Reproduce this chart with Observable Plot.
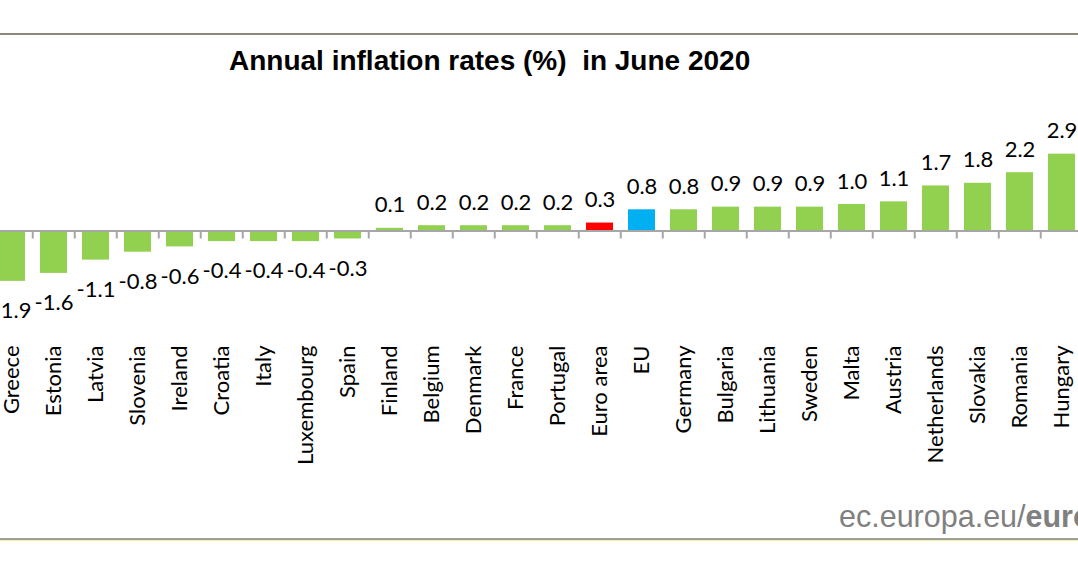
<!DOCTYPE html>
<html>
<head>
<meta charset="utf-8">
<script src="https://cdn.jsdelivr.net/npm/d3@7"></script>
<script src="https://cdn.jsdelivr.net/npm/@observablehq/plot@0.6"></script>
<style>
html, body { margin: 0; padding: 0; background: #fff; overflow: hidden; }
#wrap { position: relative; width: 1078px; height: 567px; overflow: hidden; background: #fff; }
#chart { position: absolute; left: 0; top: 0; }
#topline { position: absolute; left: 0; top: 33px; width: 1078px; height: 2px; background: #8b877b; }
#title { position: absolute; left: 229px; top: 47px; font-family: "Liberation Sans", Arial, sans-serif; font-weight: bold; font-size: 28px; line-height: 28px; color: #000; white-space: nowrap; }
#footer { position: absolute; left: 839px; top: 501px; font-family: "Liberation Sans", Arial, sans-serif; font-size: 30.5px; line-height: 30.5px; color: #808080; white-space: nowrap; }
#bottomline { position: absolute; left: 0; top: 538px; width: 1078px; height: 2px; background: #a0a08e; border-bottom: 1px solid #eef2b0; }
</style>
</head>
<body>
<div id="wrap">
  <div id="chart"></div>
  <div id="topline"></div>
  <div id="title">Annual inflation rates (%)&nbsp; in June 2020</div>
  <div id="footer">ec.europa.eu/<b>eurostat</b></div>
  <div id="bottomline"></div>
</div>
<script>
const countries = ["Greece", "Estonia", "Latvia", "Slovenia", "Ireland", "Croatia", "Italy", "Luxembourg", "Spain",
  "Finland", "Belgium", "Denmark", "France", "Portugal", "Euro area", "EU", "Germany", "Bulgaria", "Lithuania",
  "Sweden", "Malta", "Austria", "Netherlands", "Slovakia", "Romania", "Hungary"];
const rates = [-1.9, -1.6, -1.1, -0.8, -0.6, -0.4, -0.4, -0.4, -0.3,
  0.1, 0.2, 0.2, 0.2, 0.2, 0.3, 0.8, 0.8, 0.9, 0.9,
  0.9, 1.0, 1.1, 1.7, 1.8, 2.2, 2.9];
const euroArea = "Euro area";
const eu = "EU";

const data = countries.map((c, i) => ({country: c, rate: rates[i]}));
const colorOf = (c) => c === euroArea ? "#ff0000" : c === eu ? "#00b0f0" : "#92d050";

const step = 42.5;
const chart = Plot.plot({
  width: 1078,
  height: 567,
  marginTop: 0, marginRight: 0, marginBottom: 0, marginLeft: 0,
  x: {domain: countries, range: [-15.5, -15.5 + step * countries.length], paddingInner: 0.35, paddingOuter: 0.175, axis: null},
  y: {domain: [-3, 4], range: [310, 124.5], axis: null},
  style: {fontFamily: "Lato, sans-serif", fontSize: "22px", color: "#000", background: "transparent"},
  marks: [
    Plot.barY(data, {x: "country", y: "rate", fill: (d) => colorOf(d.country)}),
    Plot.ruleY([0], {stroke: "#a6a6a6", strokeWidth: 2}),
    Plot.ruleX(countries, {x: (d) => d, y1: () => 0, y2: () => 0, insetBottom: -8, dx: -step / 2, stroke: "#a6a6a6", strokeWidth: 2}),
    Plot.text(data.filter((d) => d.rate >= 0), {x: "country", y: "rate", text: (d) => d.rate.toFixed(1), lineAnchor: "bottom", dy: -16, fontSize: 22, fill: "#000"}),
    Plot.text(data.filter((d) => d.rate < 0), {x: "country", y: "rate", text: (d) => d.rate.toFixed(1), lineAnchor: "top", dy: 21, fontSize: 22, fill: "#000"}),
    Plot.text(countries, {x: (d) => d, frameAnchor: "top", dy: 345, rotate: -90, textAnchor: "end", lineAnchor: "middle", fontSize: 22, fill: "#000"})
  ]
});
document.getElementById("chart").appendChild(chart);
</script>
</body>
</html>
